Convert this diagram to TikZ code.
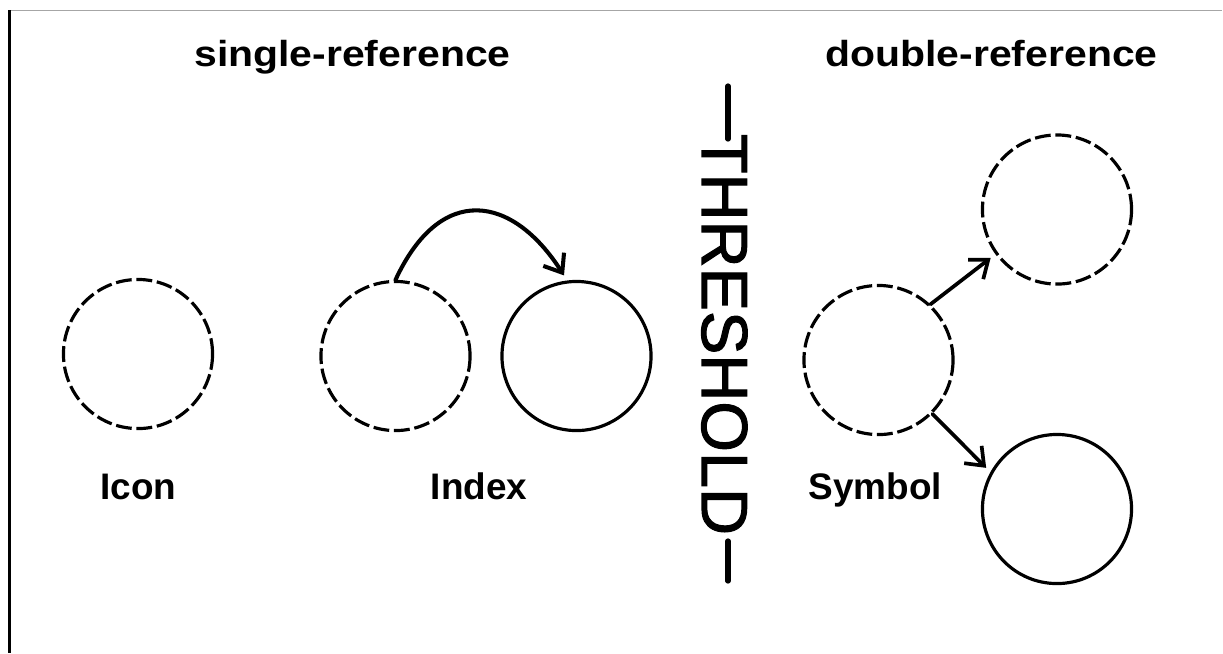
\documentclass[tikz,border=0pt]{standalone}
\usepackage{fontspec}
\setmainfont{Liberation Sans}
\newfontfamily\headfont[FakeStretch=1.13]{Liberation Sans}
\newfontfamily\thrfont[FakeBold=1.6]{Liberation Sans}
\usepackage{tikz}
\usetikzlibrary{arrows.meta,positioning}

\tikzset{
  ring/.style={circle, draw, line width=0.9pt, minimum size=1.49cm, inner sep=0pt},
  dashring/.style={ring, dash pattern=on 4.5pt off 1.35pt},
  lbl/.style={anchor=base, font=\bfseries\fontsize{10.5}{12}\selectfont},
  headline/.style={anchor=base, font=\headfont\bfseries\fontsize{10.3}{12}\selectfont},
  arr/.style={-{Straight Barb[length=4.5pt,width=7pt]}, line width=1.15pt, line cap=round, line join=round},
  bar/.style={line width=1.5pt, line cap=round}
}

\begin{document}
\begin{tikzpicture}[x=0.01cm, y=-0.01cm]
\useasboundingbox (0,0) rectangle (1223,653);

% frame edges
\draw[gray!70, line width=0.3pt] (9,10.3) -- (1222,10.3);
\draw[line width=0.7pt] (9.5,10) -- (9.5,653);

% headings
\node[headline] (hsingle) at (352.5,66) {single-reference};
\node[headline] (hdouble) at (991.5,66) {double-reference};

% single-reference side
\node[dashring] (icon) at (138,354) {};
\node[dashring] (idx) at (395.5,356) {};
\node[ring] (obj) at (576.5,356) {};
\draw[arr, shorten >=0.06cm] (idx.north) .. controls +(45,-97) and +(-55,-86) .. (obj.97);

\node[lbl] (licon) at (138.5,499) {Icon};
\node[lbl] (lidx) at (479,499) {Index};

% threshold
\node[anchor=base, rotate=-90, inner sep=0pt, font=\thrfont\fontsize{18.5}{20}\selectfont] (thr) at (702,334.5) {THRESHOLD};
\draw[bar] (728,86) -- (728,139);
\draw[bar] (728,541) -- (728,581);

% double-reference side
\node[dashring] (sym) at (878.5,360) {};
\node[dashring] (up) at (1057,209.5) {};
\node[ring] (down) at (1057,509) {};
\draw[arr, line width=1.05pt, shorten >=0.06cm] (sym.47) -- (up.216);
\draw[arr, line width=1.05pt, shorten >=0.06cm] (sym.315) -- (down.151);

\node[lbl] (lsym) at (875.5,499) {Symbol};

\end{tikzpicture}
\end{document}
